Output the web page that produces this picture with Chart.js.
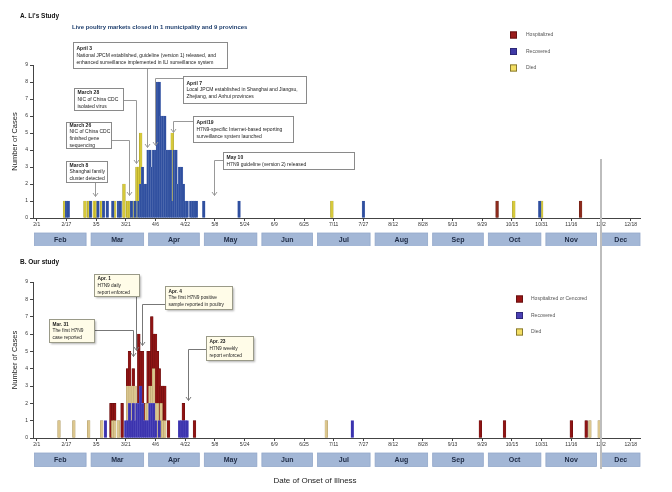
<!DOCTYPE html>
<html><head><meta charset="utf-8">
<script src="https://cdn.jsdelivr.net/npm/chart.js@4.4.1/dist/chart.umd.min.js"></script>
<style>
html,body{margin:0;padding:0;background:#fff;}
#wrap{position:relative;width:672px;height:492px;overflow:hidden;background:#fff;}
canvas{position:absolute;left:0;}
#ca{top:0;}
#cb{top:246px;}
</style></head><body>
<div id="wrap"><canvas id="ca" width="672" height="246"></canvas><canvas id="cb" width="672" height="246"></canvas></div>
<script>
// ---------- axis labels ----------
const tickDates = ['2/1','2/17','3/5','3/21','4/6','4/22','5/8','5/24','6/9','6/25','7/11','7/27','8/12','8/28','9/13','9/29','10/15','10/31','11/16','12/2','12/18'];
const monthNames = ['Feb','Mar','Apr','May','Jun','Jul','Aug','Sep','Oct','Nov','Dec'];
const yTicks = [0,1,2,3,4,5,6,7,8,9];

// ---------- Panel A: Li's study ----------
const liRecoveredDates = ['2/17','2/18','3/2','3/6','3/9','3/11','3/14','3/17','3/18','3/24','3/26','3/28','3/29','3/30','3/31','4/1','4/2','4/3','4/4','4/5','4/6','4/7','4/8','4/9','4/10','4/11','4/12','4/13','4/14','4/15','4/16','4/17','4/18','4/19','4/20','4/21','4/22','4/23','4/25','4/26','4/27','4/28','5/2','5/21','7/27','10/30'];
const liRecoveredCounts = [1,1,1,1,1,1,1,1,1,1,1,1,2,3,2,2,4,4,3,4,4,8,8,6,6,6,4,4,4,1,4,4,2,3,3,2,1,1,1,1,1,1,1,1,1,1];
const liDiedDates = ['2/16','2/27','3/1','3/4','3/5','3/8','3/15','3/20','3/22','3/23','3/25','3/27','3/28','3/29','4/15','7/10','10/16','10/31'];
const liDiedCounts = [1,1,1,1,1,1,1,2,1,1,1,3,2,3,4,1,1,1];
const liHospDates = ['10/7','11/21'];
const liHospCounts = [1,1];

// ---------- Panel B: our study ----------
const ourRecoveredDates = ['3/10','3/21','3/22','3/23','3/24','3/25','3/26','3/27','3/28','3/29','3/30','3/31','4/1','4/2','4/3','4/4','4/5','4/6','4/8','4/19','4/20','4/21','4/22','4/23','7/21'];
const ourRecoveredCounts = [1,1,1,2,1,2,1,2,2,3,2,1,1,1,2,2,2,1,1,1,1,1,1,1,1];
const ourDiedDates = ['2/13','2/21','3/1','3/8','3/14','3/15','3/17','3/22','3/23','3/24','3/25','3/26','4/1','4/2','4/3','4/4','4/5','4/6','4/7','4/9','4/10','4/11','7/7','11/26','12/1'];
const ourDiedCounts = [1,1,1,1,1,1,1,2,1,2,1,2,1,1,1,1,2,1,2,2,1,1,1,1,1];
const ourHospDates = ['3/13','3/14','3/15','3/19','3/22','3/23','3/25','3/28','3/29','3/30','3/31','4/2','4/3','4/4','4/5','4/6','4/7','4/8','4/9','4/10','4/11','4/13','4/21','4/27','9/28','10/11','11/16','11/24'];
const ourHospCounts = [2,1,1,2,1,2,1,4,2,3,1,3,2,4,2,4,3,3,1,2,2,1,1,1,1,1,1,1];

// reference line date (end of study window)
const cutoffDate = '12/2';

// ---------- calendar helper (2013, days since Feb 1) ----------
const monthStart = {2:0,3:28,4:59,5:89,6:120,7:150,8:181,9:212,10:242,11:273,12:303,13:334};
function dayOf(s){const [m,d]=s.split('/').map(Number);return monthStart[m]+d-1;}
function pts(dates,counts){return dates.map((s,i)=>({x:dayOf(s),y:counts[i]}));}

// ---------- annotations (anchored in data coordinates) ----------
const annA = [
 {lines:['March 8','Shanghai family','cluster detected'], box:[15.8,3.35,37.9,2.12], path:[[31.4,2.12],[31.4,1.3]]},
 {lines:['March 26','NIC of China CDC','finished gene','sequencing'], box:[15.8,5.65,40.0,4.12], path:[[40.0,4.59],[49.7,4.59],[49.7,1.35]]},
 {lines:['March 28','NIC of China CDC','isolated virus'], box:[20.1,7.65,46.5,6.35], path:[[46.5,6.94],[53.5,6.94],[53.5,3.24]]},
 {lines:['April 3','National JPCM established, guideline (version 1) released, and','enhanced surveillance implemented in ILI surveillance system'], box:[19.6,10.35,102.5,8.82], path:[[59.4,8.82],[59.4,4.18]]},
 {lines:['April 7','Local JPCM established in Shanghai and Jiangsu,','Zhejiang, and Anhui provinces'], box:[78.8,8.35,145,6.76], path:[[78.8,8.24],[63.7,8.24],[63.7,4.29]]},
 {lines:['April19','H7N9-specific Internet-based reporting','surveillance system launched'], box:[84.2,6.0,138,4.47], path:[[84.2,5.7],[73.4,5.7],[73.4,5.06]]},
 {lines:['May 10','H7N9 guideline (version 2) released'], box:[100.4,3.88,171,2.88], path:[[100.4,3.41],[95.5,3.41],[95.5,1.35]]}
];
const annB = [
 {lines:['Mar. 31','The first H7N9','case reported'], box:[6.6,6.87,30.9,5.54], path:[[30.9,6.23],[51.9,6.23],[51.9,4.73]]},
 {lines:['Apr. 1','H7N9 daily','report enforced'], box:[30.9,9.46,55.1,8.19], path:[[53.5,8.19],[53.5,5.08]]},
 {lines:['Apr. 4','The first H7N9 positive','sample reported in poultry'], box:[69.1,8.77,105.2,7.44], path:[[69.1,7.73],[56.7,7.73],[56.7,5.37]]},
 {lines:['Apr. 23','H7N9 weekly','report enforced'], box:[91.2,5.89,116.5,4.5], path:[[91.2,5.14],[81.5,5.14],[81.5,2.19]]}
];

// legend order (dataset indices, top to bottom)
const legendOrder = [2,0,1];

const FONT = "'Liberation Sans', Arial, sans-serif";
Chart.defaults.font.family = FONT;
Chart.defaults.color = '#333';

function drawAnnotations(chart, list, st){
  const {ctx, scales:{x,y}} = chart;
  ctx.save();
  list.forEach(a=>{
    ctx.strokeStyle = st.line; ctx.lineWidth = 1;
    ctx.beginPath();
    a.path.forEach((p,i)=>{const px=Math.round(x.getPixelForValue(p[0]))+0.5, py=Math.round(y.getPixelForValue(p[1]))+0.5; i?ctx.lineTo(px,py):ctx.moveTo(px,py);});
    ctx.stroke();
    const tip = a.path[a.path.length-1];
    const tx=Math.round(x.getPixelForValue(tip[0]))+0.5, ty=Math.round(y.getPixelForValue(tip[1]))+0.5;
    ctx.beginPath(); ctx.moveTo(tx-2.5,ty-3.5); ctx.lineTo(tx,ty); ctx.lineTo(tx+2.5,ty-3.5); ctx.stroke();
    const x0=Math.round(x.getPixelForValue(a.box[0]))+0.5, y0=Math.round(y.getPixelForValue(a.box[1]))+0.5;
    const x1=Math.round(x.getPixelForValue(a.box[2]))+0.5, y1=Math.round(y.getPixelForValue(a.box[3]))+0.5;
    ctx.save();
    if(st.shadow){ctx.shadowColor='rgba(0,0,0,0.3)';ctx.shadowBlur=2;ctx.shadowOffsetX=1;ctx.shadowOffsetY=1;}
    ctx.fillStyle = st.fill; ctx.fillRect(x0,y0,x1-x0,y1-y0);
    ctx.restore();
    ctx.strokeStyle = st.border; ctx.strokeRect(x0,y0,x1-x0,y1-y0);
    const n=a.lines.length, lh=st.lh, h=y1-y0;
    let yy = y0 + (h - n*lh)/2 + lh/2;
    ctx.textBaseline='middle'; ctx.textAlign='left'; ctx.fillStyle=st.text;
    a.lines.forEach((t,i)=>{
      ctx.font = (i===0?'bold ':'') + st.size + 'px ' + FONT;
      ctx.fillText(t, x0+3, yy + i*lh);
    });
  });
  ctx.restore();
}

function drawMonths(chart){
  const {ctx, scales:{x}, chartArea} = chart;
  ctx.save();
  const top = chartArea.bottom + 15, h = 13.5;
  monthNames.forEach((m,i)=>{
    const s = monthStart[i+2], e = monthStart[i+3];
    const l = i===0 ? x.getPixelForValue(s-1.2) : x.getPixelForValue(s+1.3);
    const r = i===monthNames.length-1 ? chartArea.right : x.getPixelForValue(e-1.4);
    ctx.fillStyle = '#a3b7d6'; ctx.fillRect(l, top, r-l, h);
    ctx.strokeStyle = '#93a8ca'; ctx.lineWidth=0.8; ctx.strokeRect(l, top, r-l, h);
    ctx.fillStyle = '#1d2a44'; ctx.font = 'bold 7px ' + FONT;
    ctx.textAlign='center'; ctx.textBaseline='middle';
    ctx.fillText(m, (l+r)/2, top + h/2 + 0.5);
  });
  ctx.restore();
}

function drawLegend(chart, lx, ly0, step, tx){
  const {ctx} = chart;
  ctx.save();
  legendOrder.forEach((di,i)=>{
    const d = chart.data.datasets[di];
    const cy = ly0 + i*step;
    ctx.fillStyle = d.legendColor; ctx.fillRect(lx, cy-3.5, 7, 7);
    ctx.strokeStyle = d.legendBorder; ctx.lineWidth = 0.8; ctx.strokeRect(lx+0.4, cy-3.1, 6.2, 6.2);
    ctx.fillStyle = '#555'; ctx.font = '5px ' + FONT; ctx.textAlign='left'; ctx.textBaseline='middle';
    ctx.fillText(d.label, tx, cy);
  });
  ctx.restore();
}

function drawCutoff(chart, fromVal, toVal){
  const {ctx, scales:{x,y}} = chart;
  const px = x.getPixelForValue(dayOf(cutoffDate));
  const y0 = fromVal===null ? 0 : y.getPixelForValue(fromVal);
  const y1 = toVal===null ? chart.height : y.getPixelForValue(toVal);
  ctx.save(); ctx.strokeStyle='#bdbdbd'; ctx.lineWidth=2;
  ctx.beginPath(); ctx.moveTo(px,y0); ctx.lineTo(px,y1); ctx.stroke(); ctx.restore();
}

function makeOptions(padTop, xHeight){
  return {
    responsive:false, animation:false,
    layout:{padding:{top:padTop,right:32,left:0,bottom:0}},
    plugins:{legend:{display:false}, tooltip:{enabled:false}},
    scales:{
      x:{type:'linear', stacked:true, min:-2, max:325, offset:false,
         grid:{display:true, drawOnChartArea:false, offset:false, tickLength:3, color:'#444'},
         border:{display:true, color:'#444', width:1},
         afterBuildTicks:(s)=>{s.ticks = tickDates.map(t=>({value:dayOf(t)}));},
         afterFit:(s)=>{s.height = xHeight;},
         ticks:{autoSkip:false, maxRotation:0, padding:1, font:{size:5}, color:'#333',
                callback:(v)=>{const i=tickDates.findIndex(t=>dayOf(t)===v); return i>=0?tickDates[i]:'';}}},
      y:{stacked:true, min:0, max:9,
         grid:{display:true, drawOnChartArea:false, tickLength:3, color:'#444'},
         border:{display:true, color:'#444', width:1},
         afterBuildTicks:(s)=>{s.ticks = yTicks.map(v=>({value:v}));},
         afterFit:(s)=>{s.width = 33;},
         ticks:{padding:2, font:{size:5}, color:'#333'},
         title:{display:true, text:'Number of Cases', font:{size:7.5}, color:'#222', padding:{top:10,bottom:0}}}
    }
  };
}

const barCommon = {barThickness:2.7, borderWidth:0.4, borderSkipped:false};

// ---------- Chart A ----------
new Chart(document.getElementById('ca'), {
  type:'bar',
  data:{datasets:[
    Object.assign({label:'Recovered', data:pts(liRecoveredDates,liRecoveredCounts), backgroundColor:'#2f4f9f', borderColor:'#6f86c0', legendColor:'#3f3aa6', legendBorder:'#2a2570'}, barCommon),
    Object.assign({label:'Died', data:pts(liDiedDates,liDiedCounts), backgroundColor:'#d6c93a', borderColor:'#9c9020', legendColor:'#f3de63', legendBorder:'#6f6226'}, barCommon),
    Object.assign({label:'Hospitalized', data:pts(liHospDates,liHospCounts), backgroundColor:'#8c2a1c', borderColor:'#5a1a10', legendColor:'#9b1b1b', legendBorder:'#5a1010'}, barCommon)
  ]},
  options: makeOptions(65, 28),
  plugins:[{id:'decorA', afterDraw(chart){
    const ctx = chart.ctx;
    drawMonths(chart);
    drawCutoff(chart, 3.47, null);
    drawAnnotations(chart, annA, {line:'#999', border:'#8a8a8a', fill:'#ffffff', text:'#222', size:5, lh:6.8, shadow:false});
    drawLegend(chart, 510, 35, 16.5, 526);
    ctx.save();
    ctx.textAlign='left'; ctx.textBaseline='middle';
    ctx.fillStyle='#111'; ctx.font='bold 6.5px '+FONT; ctx.fillText("A. Li's Study", 20, 16);
    ctx.fillStyle='#1f3f6e'; ctx.font='bold 6px '+FONT; ctx.fillText('Live poultry markets closed in 1 municipality and 9 provinces', 72, 27.5);
    ctx.restore();
  }}]
});

// ---------- Chart B ----------
new Chart(document.getElementById('cb'), {
  type:'bar',
  data:{datasets:[
    Object.assign({label:'Recovered', data:pts(ourRecoveredDates,ourRecoveredCounts), backgroundColor:'#3b33ae', borderColor:'#6a64c8', legendColor:'#4a40b4', legendBorder:'#2a2570'}, barCommon),
    Object.assign({label:'Died', data:pts(ourDiedDates,ourDiedCounts), backgroundColor:'#dbc68e', borderColor:'#a89460', legendColor:'#f3de63', legendBorder:'#6f6226'}, barCommon),
    Object.assign({label:'Hospitalized or Cencored', data:pts(ourHospDates,ourHospCounts), backgroundColor:'#8e1414', borderColor:'#5e0c0c', legendColor:'#9b1414', legendBorder:'#5a1010'}, barCommon)
  ]},
  options: makeOptions(36, 54),
  plugins:[{id:'decorB', afterDraw(chart){
    const ctx = chart.ctx;
    drawMonths(chart);
    drawCutoff(chart, null, -1.79);
    drawAnnotations(chart, annB, {line:'#777', border:'#9a9a88', fill:'#fffce8', text:'#222', size:4.8, lh:6.7, shadow:true});
    drawLegend(chart, 516, 53, 16.5, 531);
    ctx.save();
    ctx.textAlign='left'; ctx.textBaseline='middle';
    ctx.fillStyle='#111'; ctx.font='bold 6.5px '+FONT; ctx.fillText('B. Our study', 20, 16.5);
    ctx.textAlign='center'; ctx.fillStyle='#222'; ctx.font='8px '+FONT;
    ctx.fillText('Date of Onset of Illness', 315, 235);
    ctx.restore();
  }}]
});
</script>
</body></html>
